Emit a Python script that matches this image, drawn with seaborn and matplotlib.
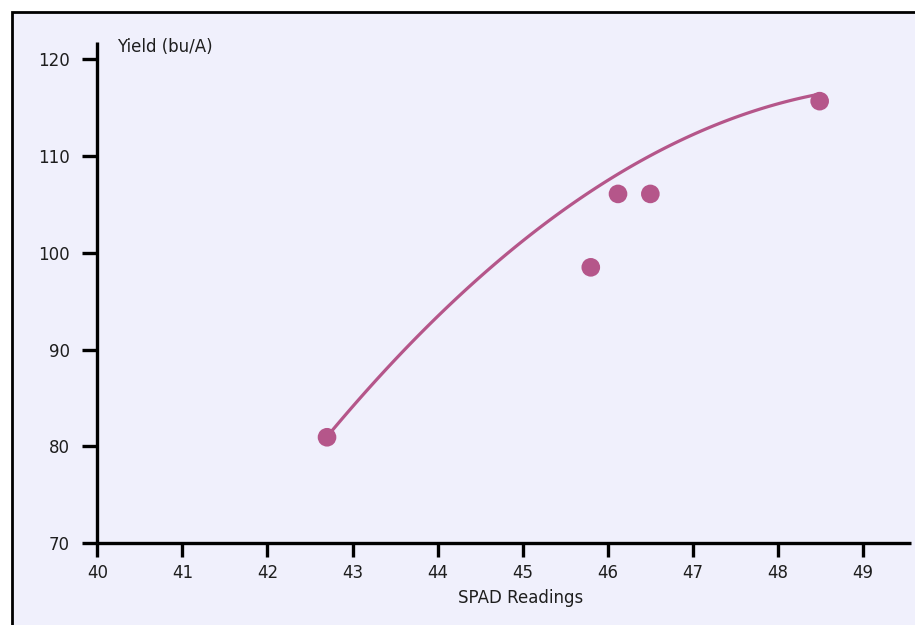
import matplotlib
matplotlib.use("Agg")
import matplotlib.pyplot as plt
import seaborn as sns
import pandas as pd
from matplotlib.patches import Rectangle

# observed points
spad = [42.70, 45.80, 46.12, 46.50, 48.49]
yield_bu = [80.95, 98.5, 106.08, 106.08, 115.66]
# trend line
trend_spad = [42.70, 43.40, 44.18, 44.97, 45.67, 45.90, 46.69, 47.47, 48.49]
trend_yield = [80.98, 88.08, 95.13, 100.64, 105.46, 107.19, 110.97, 113.90, 116.35]
x_ticks = [40, 41, 42, 43, 44, 45, 46, 47, 48, 49]
y_ticks = [70, 80, 90, 100, 110, 120]

sns.set_theme(style="white")
plt.rcParams['font.family'] = ['DejaVu Sans']
text_color = "#1e1e1e"

W, H = 915, 625
fig = plt.figure(figsize=(W / 100, H / 100), dpi=100)
fig.patch.set_facecolor("white")
bg = Rectangle((11.5 / W, -0.1), 1.2, (H - 12) / H + 0.1, transform=fig.transFigure,
               facecolor="#f0f0fc", edgecolor="black", linewidth=2.0, zorder=-10)
fig.add_artist(bg)

ax_left, ax_right, ax_bottom, ax_top = 97.3, 910.7, 543.3, 41.7
ax = fig.add_axes([ax_left / W, 1 - ax_bottom / H, (ax_right - ax_left) / W,
                   (ax_bottom - ax_top) / H])
ax.set_zorder(5)
ax.patch.set_alpha(0)

color = "#b5568a"
df = pd.DataFrame({"SPAD": spad, "Yield": yield_bu})
tdf = pd.DataFrame({"SPAD": trend_spad, "Yield": trend_yield})
sns.regplot(data=tdf, x="SPAD", y="Yield", order=2, ci=None, ax=ax, scatter=False,
            color=color, line_kws=dict(linewidth=2.3))
sns.scatterplot(data=df, x="SPAD", y="Yield", ax=ax, color=color, s=180,
                edgecolor="none", zorder=3)

ax.set_xlim(40, 49.56)
ax.set_ylim(70, 121.8)
ax.set_xticks(x_ticks)
ax.set_yticks(y_ticks)
ax.set_xticklabels([str(v) for v in x_ticks])
ax.set_yticklabels([str(v) for v in y_ticks])
ax.set_xlabel("SPAD Readings", fontsize=12, color=text_color)
ax.xaxis.label.set_va("center")
ax.xaxis.set_label_coords(0.52, -0.109)
ax.set_ylabel("")
ax.text(0.024, 0.989, "Yield (bu/A)", transform=ax.transAxes, fontsize=12,
        ha="left", va="center", color=text_color)

for s in ["top", "right"]:
    ax.spines[s].set_visible(False)
for s in ["left", "bottom"]:
    ax.spines[s].set_color("black")
    ax.spines[s].set_linewidth(2.4)
    ax.spines[s].set_capstyle("butt")
ax.tick_params(axis="x", direction="out", length=10, width=2.4, color="black",
               labelsize=12, pad=5, bottom=True, labelcolor=text_color)
ax.tick_params(axis="y", direction="out", length=11, width=2.4, color="black",
               labelsize=12, pad=9, left=True, labelcolor=text_color)

fig.savefig("out.png", dpi=100)
